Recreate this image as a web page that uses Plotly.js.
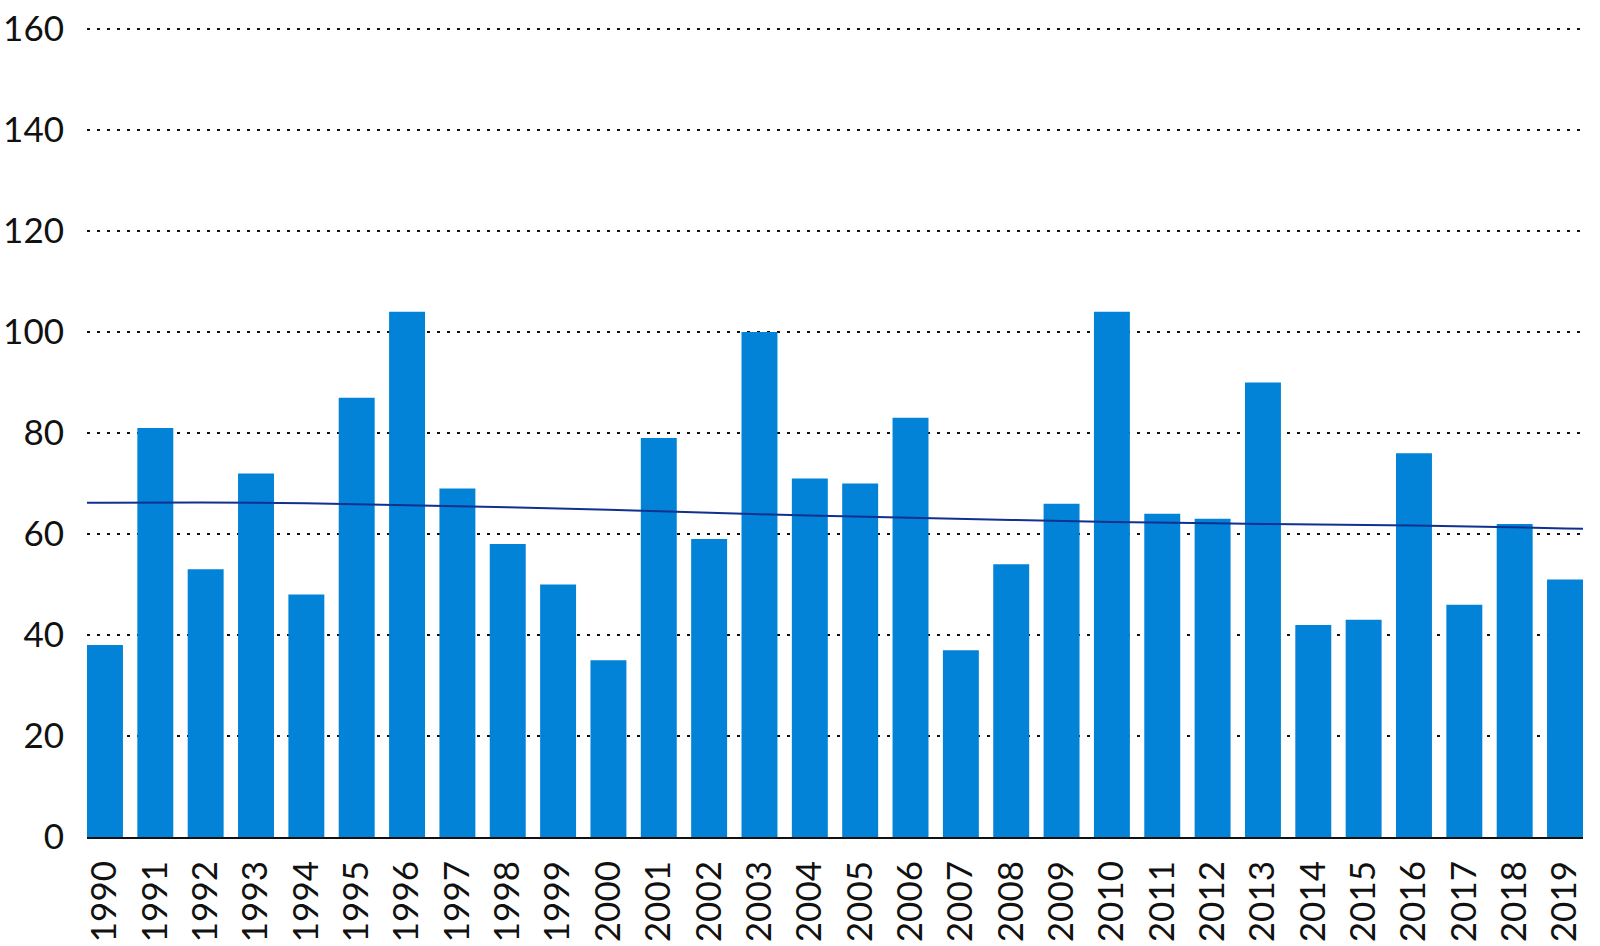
<!DOCTYPE html>
<html><head><meta charset="utf-8">
<script src="https://cdn.plot.ly/plotly-3.0.1.min.js"></script>
<style>html,body{margin:0;padding:0;background:#fff}#chart{width:1600px;height:946px}</style>
</head><body><div id="chart"></div>
<script>
const years = [1990,1991,1992,1993,1994,1995,1996,1997,1998,1999,2000,2001,2002,2003,2004,2005,2006,2007,2008,2009,2010,2011,2012,2013,2014,2015,2016,2017,2018,2019];
const values = [38,81,53,72,48,87,104,69,58,50,35,79,59,100,71,70,83,37,54,66,104,64,63,90,42,43,76,46,62,51];
const trendYears = [1990,1993,1996,2000,2003,2006,2010,2013,2016,2019];
const trendValues = [66.2,66.2,65.7,64.8,63.9,63.2,62.4,62.0,61.7,61.1];
const yTicks = [0,20,40,60,80,100,120,140,160];

const barFrac = 0.714;
const xr = [years[0]-barFrac/2, years[years.length-1]+barFrac/2];
function extrap(x0,y0,x1,y1,x){return y0+(y1-y0)*(x-x0)/(x1-x0);}
const n = trendYears.length;
const tX = [xr[0]].concat(trendYears, [xr[1]]);
const tY = [extrap(trendYears[0],trendValues[0],trendYears[1],trendValues[1],xr[0])].concat(trendValues,
  [extrap(trendYears[n-2],trendValues[n-2],trendYears[n-1],trendValues[n-1],xr[1])]);

const font = {family:'Lato, "Open Sans", sans-serif', size:35, color:'#111'};
Plotly.newPlot('chart', [
  {type:'bar', x:years, y:values, width:barFrac, marker:{color:'#0283d7'}, hoverinfo:'x+y'},
  {type:'scatter', mode:'lines', x:tX, y:tY, line:{color:'#10318f', width:2, shape:'spline'}, hoverinfo:'skip'}
], {
  width:1600, height:946, showlegend:false,
  paper_bgcolor:'#fff', plot_bgcolor:'#fff',
  margin:{l:87, r:17, t:27, b:109},
  font: font,
  xaxis:{type:'linear', range:xr, tickvals:years, ticktext:years.map(String), tickangle:-90,
    showgrid:false, zeroline:false, showline:true, linecolor:'#111', linewidth:2, ticks:'', ticklabelstandoff:8,
    tickfont:font},
  yaxis:{range:[0,160.4], tickvals:yTicks, showgrid:true, gridcolor:'#111', gridwidth:2.6, griddash:'2.6px,7.4px',
    zeroline:false, showline:false, ticks:'', ticklabelstandoff:22, tickfont:font}
}, {displayModeBar:false, staticPlot:true});
</script></body></html>
